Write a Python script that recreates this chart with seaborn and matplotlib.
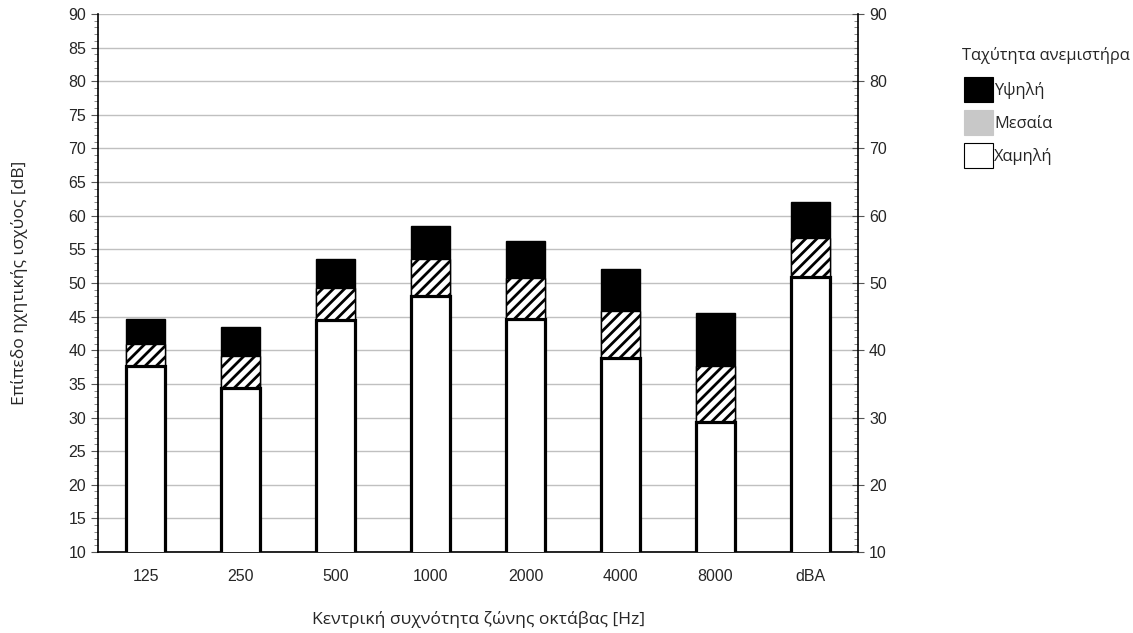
import matplotlib
matplotlib.use("Agg")
import matplotlib.pyplot as plt
import seaborn as sns
import pandas as pd
import numpy as np
from matplotlib.patches import Patch
from matplotlib.ticker import MultipleLocator

categories = ["125", "250", "500", "1000", "2000", "4000", "8000", "dBA"]
high = [44.7, 43.5, 53.5, 58.5, 56.3, 52.1, 45.6, 62.0]
medium = [40.9, 39.1, 49.3, 53.5, 50.8, 45.9, 37.7, 56.7]
low = [37.7, 34.4, 44.5, 48.1, 44.7, 38.8, 29.3, 50.9]
legend_title = "Ταχύτητα ανεμιστήρα"
series_names = ["Υψηλή", "Μεσαία", "Χαμηλή"]

sns.set_style("white")
plt.rcParams["hatch.linewidth"] = 2.0
tick_font = "Liberation Sans"
label_font = ["Open Sans", "DejaVu Sans"]
tick_size = 11.5
label_size = 12.6
legend_size = 11.8

df = pd.DataFrame({"cat": categories, "high": high, "medium": medium, "low": low})

fig = plt.figure(figsize=(11.33, 6.33), dpi=100)
ax = fig.add_axes([98 / 1133, 1 - 552 / 633, 760 / 1133, 538 / 633])

bw = 0.42
sns.barplot(data=df, x="cat", y="high", ax=ax, color="black", width=bw,
            edgecolor="black", linewidth=1, saturation=1, zorder=3)
sns.barplot(data=df, x="cat", y="medium", ax=ax, color="white", width=bw,
            edgecolor="black", linewidth=1, saturation=1, hatch="///", zorder=4)
sns.barplot(data=df, x="cat", y="low", ax=ax, color="white", width=bw,
            edgecolor="black", linewidth=2.3, saturation=1, zorder=5)

ax.set_ylim(10, 90)
ax.set_xlim(-0.5, len(categories) - 0.5)
ax.yaxis.set_major_locator(MultipleLocator(5))
ax.yaxis.set_minor_locator(MultipleLocator(1))
ax.grid(axis="y", which="major", color="#c0c0c0", linewidth=1, zorder=0)
ax.set_axisbelow(True)
ax.spines["top"].set_visible(False)
ax.spines["right"].set_visible(False)
for s in ["left", "bottom"]:
    ax.spines[s].set_color("black")
    ax.spines[s].set_linewidth(1.2)
ax.tick_params(axis="y", which="major", direction="out", length=5, width=0.8,
               color="#555555", left=True, labelsize=tick_size)
ax.tick_params(axis="y", which="minor", direction="out", length=3, width=0.6,
               color="#777777", left=True)
ax.tick_params(axis="x", length=0, labelsize=tick_size, pad=12)
for lab in ax.get_xticklabels() + ax.get_yticklabels():
    lab.set_fontfamily(tick_font)

ax.set_xlabel("Κεντρική συχνότητα ζώνης οκτάβας [Hz]", fontsize=label_size,
              family=label_font, labelpad=20)
ax.set_ylabel("Επίπεδο ηχητικής ισχύος [dB]", fontsize=label_size,
              family=label_font, labelpad=29)

ax2 = ax.twinx()
ax2.set_ylim(10, 90)
ax2.yaxis.set_major_locator(MultipleLocator(10))
ax2.yaxis.set_minor_locator(MultipleLocator(1))
for s in ["top", "left", "bottom"]:
    ax2.spines[s].set_visible(False)
ax2.spines["right"].set_color("black")
ax2.spines["right"].set_linewidth(1.2)
ax2.tick_params(axis="y", which="major", direction="inout", length=8, width=0.8,
                color="#555555", right=True, labelsize=tick_size, pad=4)
ax2.tick_params(axis="y", which="minor", direction="in", length=3, width=0.6,
                color="#777777", right=True)
for lab in ax2.get_yticklabels():
    lab.set_fontfamily(tick_font)

fig.text(962 / 1133, 1 - 55 / 633, legend_title, family=label_font,
         fontsize=legend_size, ha="left", va="center")
handles = [
    Patch(facecolor="black", edgecolor="black", linewidth=0.8),
    Patch(facecolor="#c8c8c8", edgecolor="#c8c8c8", linewidth=0.8),
    Patch(facecolor="white", edgecolor="black", linewidth=0.8),
]
leg = fig.legend(handles, series_names, loc="upper left",
                 bbox_to_anchor=(964 / 1133, 1 - 77 / 633), frameon=False,
                 handlelength=1.75, handleheight=1.95,
                 handletextpad=0.1, labelspacing=0.5, borderpad=0,
                 borderaxespad=0,
                 prop={"family": label_font, "size": legend_size})

fig.savefig("out.png", dpi=100)
